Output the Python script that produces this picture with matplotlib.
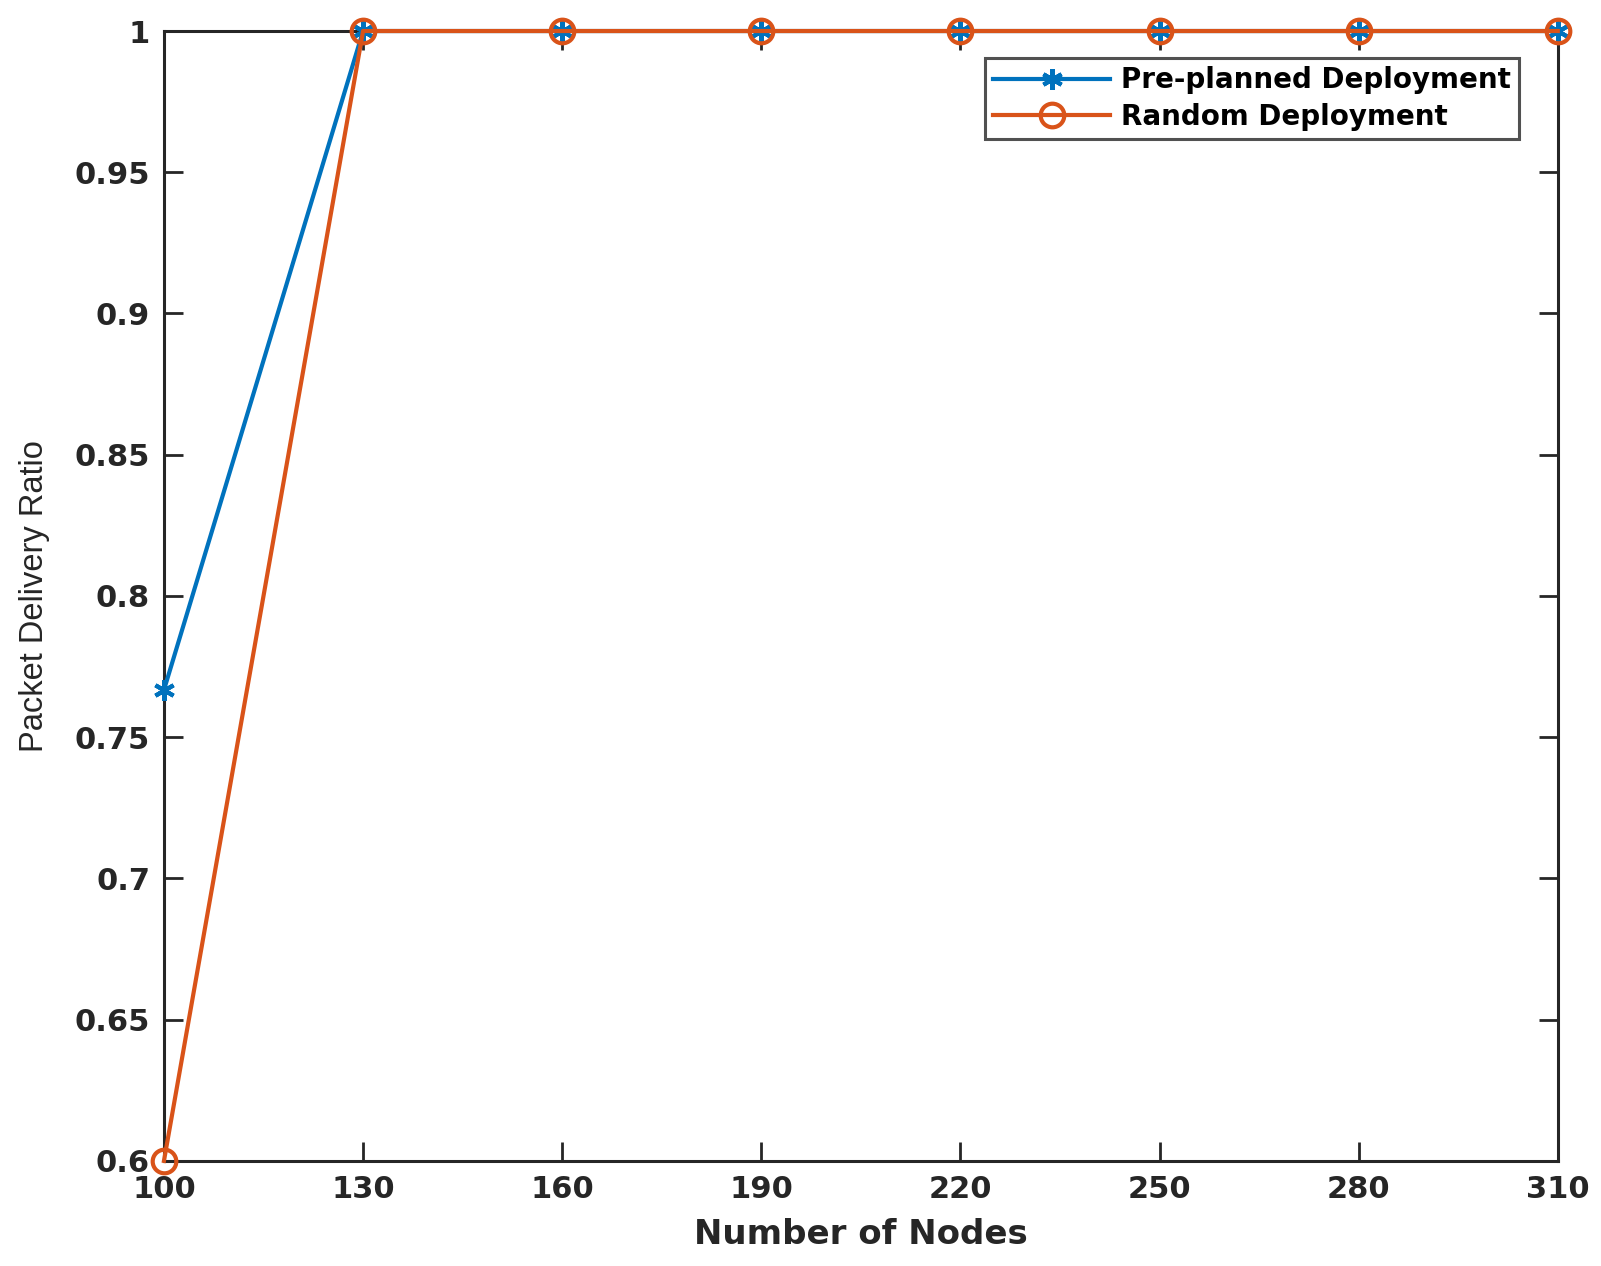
import matplotlib
matplotlib.use("Agg")
import matplotlib.pyplot as plt

nodes = [100, 130, 160, 190, 220, 250, 280, 310]
preplanned = [0.7667, 1, 1, 1, 1, 1, 1, 1]
random_dep = [0.6, 1, 1, 1, 1, 1, 1, 1]
yticks = [0.6, 0.65, 0.7, 0.75, 0.8, 0.85, 0.9, 0.95, 1]
ytick_labels = ["0.6", "0.65", "0.7", "0.75", "0.8", "0.85", "0.9", "0.95", "1"]

plt.rcParams['font.family'] = ['DejaVu Sans']
fig = plt.figure(figsize=(16.01, 12.66), dpi=100)
ax = fig.add_axes([0.1024, 0.083, 0.8706, 0.8925])

ax.plot(nodes, preplanned, color='#0072BD', lw=3, marker=(6, 2, 0), ms=15, mew=3,
        label='Pre-planned Deployment', clip_on=False, zorder=3)
ax.plot(nodes, random_dep, color='#D95319', lw=3, marker='o', ms=17, mew=3,
        mfc='none', label='Random Deployment', clip_on=False, zorder=4)

ax.set_xlim(100, 310)
ax.set_ylim(0.6, 1)
ax.set_xticks(nodes)
ax.set_xticklabels([str(n) for n in nodes], fontsize=22, fontweight='bold', color='#262626')
ax.set_yticks(yticks)
ax.set_yticklabels(ytick_labels, fontsize=22, fontweight='bold', color='#262626')
ax.tick_params(direction='in', length=14, width=2, right=True, top=True, pad=10, colors='#262626')
for s in ax.spines.values():
    s.set_linewidth(2.2)
    s.set_color('#262626')
    s.set_zorder(2)

ax.set_xlabel('Number of Nodes', fontsize=24.5, fontweight='bold', color='#262626', labelpad=10)
ax.set_ylabel('Packet Delivery Ratio', fontsize=23.5, color='#262626', labelpad=18,
              family=['Liberation Sans', 'DejaVu Sans'])

leg = ax.legend(loc='upper right', bbox_to_anchor=(0.9765, 0.981),
                prop={'weight': 'bold', 'size': 20}, frameon=True, fancybox=False,
                edgecolor='#262626', handlelength=4.2, handletextpad=0.4,
                borderpad=0.3, labelspacing=0.3, borderaxespad=0.2)
leg.get_frame().set_linewidth(2.2)

fig.savefig('out.png', dpi=100)
